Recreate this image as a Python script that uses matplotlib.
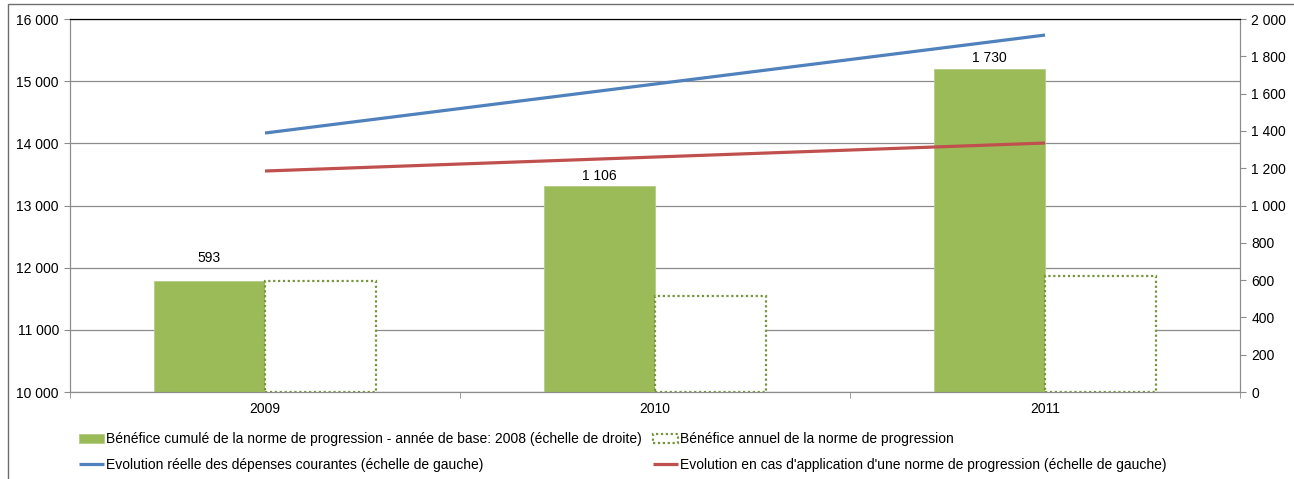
import matplotlib
matplotlib.use("Agg")
import matplotlib.pyplot as plt
from matplotlib.patches import Rectangle
from matplotlib.ticker import FuncFormatter
import numpy as np

plt.rcParams["font.family"] = ["Liberation Sans", "DejaVu Sans"]
plt.rcParams["font.size"] = 10

years = ["2009", "2010", "2011"]
benefice_cumule = [593, 1106, 1730]          # échelle de droite
benefice_annuel = [593, 513, 624]            # échelle de droite
evolution_reelle = [14166, 14954, 15742]     # échelle de gauche
evolution_norme = [13555, 13780, 14005]      # échelle de gauche

label_cumule = "Bénéfice cumulé de la norme de progression - année de base: 2008 (échelle de droite)"
label_annuel = "Bénéfice annuel de la norme de progression"
label_reelle = "Evolution réelle des dépenses courantes (échelle de gauche)"
label_norme = "Evolution en cas d'application d'une norme de progression (échelle de gauche)"

# the first data label sits higher in the original
label_offsets = [12, 2, 3.5]

GREEN = "#9BBB59"
GREEN_DARK = "#77933C"
BLUE = "#4F81BD"
RED = "#C0504D"
GRID = "#8C8C8C"


def fmt_space(v, _pos=None):
    return f"{int(round(v)):,}".replace(",", " ")


fig = plt.figure(figsize=(12.94, 4.79), dpi=100)
pos = [0.0541, 0.1816, 0.9042, 0.7787]

# left axis: scale + grid
ax = fig.add_axes(pos)
ax.set_ylim(10000, 16000)
ax.set_yticks(np.arange(10000, 16001, 1000))
ax.yaxis.set_major_formatter(FuncFormatter(fmt_space))
ax.grid(True, axis="y", color=GRID, linewidth=0.9)
ax.set_axisbelow(True)

x = np.arange(len(years))
ax.set_xlim(-0.5, len(years) - 0.5)
ax.set_xticks(x)
ax.set_xticklabels(years)
ax.set_xticks(np.arange(-0.5, len(years), 1.0), minor=True)
ax.tick_params(axis="x", which="major", length=0, pad=7)
ax.tick_params(axis="x", which="minor", length=4, color=GRID, direction="out")
ax.tick_params(axis="y", length=4, color=GRID, direction="out", pad=4)
for side in ("left", "bottom", "right"):
    ax.spines[side].set_color(GRID)
ax.spines["top"].set_color("black")

# right axis: bars
ax2 = ax.twinx()
ax2.set_ylim(0, 2000)
ax2.set_yticks(np.arange(0, 2001, 200))
ax2.yaxis.set_major_formatter(FuncFormatter(fmt_space))
ax2.tick_params(axis="y", length=4, color=GRID, direction="out", pad=4)
for side in ("left", "bottom", "right"):
    ax2.spines[side].set_color(GRID)
ax2.spines["top"].set_color("black")

w = 0.285
b1 = ax2.bar(x - w / 2, benefice_cumule, width=w, color=GREEN, edgecolor="#B5CC85",
             linewidth=0.6, label=label_cumule, zorder=2)
b2 = ax2.bar(x + w / 2, benefice_annuel, width=w, color="white", edgecolor=GREEN_DARK,
             linewidth=1.6, linestyle=(0, (1, 1.2)), label=label_annuel, zorder=2)
for xi, v, off in zip(x - w / 2, benefice_cumule, label_offsets):
    ax2.annotate(fmt_space(v), (xi, v), xytext=(0, off), textcoords="offset points",
                 ha="center", va="bottom")

# lines on the left scale, above bars
ax3 = fig.add_axes(pos, sharex=ax, sharey=ax)
ax3.patch.set_visible(False)
ax3.axis("off")
l1, = ax3.plot(x, evolution_reelle, color=BLUE, linewidth=2.3, label=label_reelle,
               solid_capstyle="butt")
l2, = ax3.plot(x, evolution_norme, color=RED, linewidth=2.3, label=label_norme,
               solid_capstyle="butt")

leg = fig.legend([b1, l1, b2, l2], [label_cumule, label_reelle, label_annuel, label_norme],
                 ncol=2, loc="upper left", bbox_to_anchor=(0.057, 0.109),
                 frameon=False, fontsize=10, handlelength=1.8, handletextpad=0.15,
                 columnspacing=0.75, borderaxespad=0, labelspacing=0.84)

# outer frame of the chart area
fig.patches.append(Rectangle((8 / 1294, -0.05), 1.2, 1 - 4 / 479 + 0.05,
                             transform=fig.transFigure, fill=False,
                             edgecolor="#6E6E6E", linewidth=1.0))

fig.savefig("out.png", dpi=100)
